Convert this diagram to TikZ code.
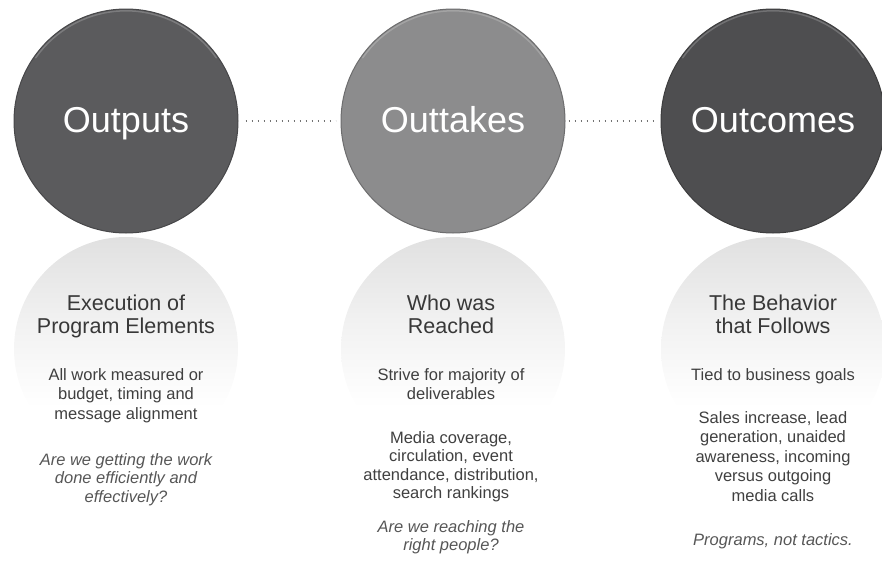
\documentclass[tikz,border=0pt]{standalone}
\usepackage{fontspec}
\setmainfont{Liberation Sans}
\usetikzlibrary{positioning}
\definecolor{cOutput}{HTML}{5B5B5D}
\definecolor{cOuttake}{HTML}{8C8C8D}
\definecolor{cOutcome}{HTML}{4E4E50}
\definecolor{cHead}{HTML}{383838}
\definecolor{cBody}{HTML}{404040}
\definecolor{cAsk}{HTML}{565656}
% mirror image under each disc: grey on top, gone to white half way down
\pgfdeclareverticalshading{reflfade}{100bp}{color(0bp)=(white); color(37bp)=(white);
  color(55bp)=(black!5); color(75bp)=(black!12); color(100bp)=(black!12)}

\begin{document}
\begin{tikzpicture}[
  x=1pt,y=1pt,
  disc/.style={circle,minimum size=224pt,inner sep=0pt,fill=#1,draw=#1!78!black,line width=1pt,
               text=white,font=\fontsize{36}{40}\selectfont,text height=26pt,text depth=4pt},
  refl/.style={circle,minimum size=224pt,inner sep=0pt,shade,shading=reflfade},
  shine/.style={white,opacity=0.2,line width=1.5pt,line cap=round},
  link/.style={draw=black!55,line width=1.3pt,dash pattern=on 1.4pt off 4.6pt},
  ttl/.style={anchor=north,align=center,inner sep=0pt,text=cHead,font=\fontsize{21.5}{23}\selectfont},
  txt/.style={anchor=north,align=center,inner sep=0pt,text=cBody,font=\fontsize{16.5}{19.5}\selectfont},
  ask/.style={txt,text=cAsk,font=\fontsize{16.5}{18.5}\selectfont\itshape},
]
\useasboundingbox (0,0) rectangle (882,-573);

\foreach \n/\x/\c/\t in {outputs/126/cOutput/Outputs, outtakes/453/cOuttake/Outtakes,
                         outcomes/773/cOutcome/Outcomes}
  {\node[refl] (\n-refl) at (\x,-349) {};
   \node[disc=\c] (\n) at (\x,-121) {\t};
   \draw[shine] ([shift={(35:110.2)}]\n.center) arc (35:145:110.2);}

\draw[link,shorten <=7pt,shorten >=5pt] (outputs.east) -- (outtakes.west);
\draw[link,shorten <=3pt,shorten >=5pt] (outtakes.east) -- (outcomes.west);

% what each stage means
\node[ttl] (outputs-ttl) at (126,-294.4) {Execution of\\Program Elements};
\node[txt] (outputs-txt) at (126,-368) {All work measured or\\budget, timing and\\message alignment};
\node[ask] (outputs-ask) at (126,-453) {Are we getting the work\\done efficiently and\\effectively?};

\node[ttl] (outtakes-ttl) at (451,-294.4) {Who was\\Reached};
\node[txt] (outtakes-txt) at (451,-368) {Strive for majority of\\deliverables};
\node[txt,font=\fontsize{16.5}{18.5}\selectfont] (outtakes-use) at (451,-431)
  {Media coverage,\\circulation, event\\attendance, distribution,\\search rankings};
\node[ask] (outtakes-ask) at (451,-520) {Are we reaching the\\right people?};

\node[ttl] (outcomes-ttl) at (773,-294.4) {The Behavior\\that Follows};
\node[txt] (outcomes-txt) at (773,-368) {Tied to business goals};
\node[txt] (outcomes-use) at (773,-411)
  {Sales increase, lead\\generation, unaided\\awareness, incoming\\versus outgoing\\media calls};
\node[ask] (outcomes-ask) at (773,-533) {Programs, not tactics.};
\end{tikzpicture}
\end{document}
